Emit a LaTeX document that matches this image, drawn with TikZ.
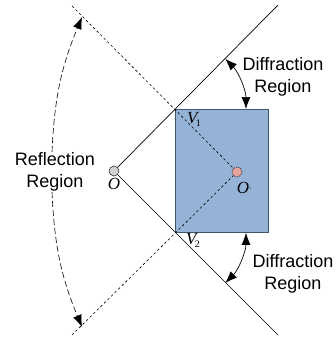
\documentclass[tikz,border=0pt]{standalone}
\usepackage{fontspec}
\setmainfont{Liberation Sans}
\newfontfamily\tmsfont{Liberation Serif}
\usetikzlibrary{arrows.meta}
\definecolor{rectfill}{HTML}{95B3D7}
\definecolor{rectedge}{HTML}{3F5570}
\definecolor{pinkfill}{HTML}{E8A29C}
\begin{document}
\begin{tikzpicture}[x=1pt,y=-1pt,
  solidline/.style={black,line width=0.7pt},
  dashline/.style={black,line width=0.6pt,dash pattern=on 2.5pt off 2.5pt},
  bigtip/.style={-{Latex[length=12pt,width=9pt]}},
  lbl/.style={font=\fontsize{18}{21.5}\selectfont,align=center,inner sep=0pt},
  mathlbl/.style={font=\fontsize{17}{18}\selectfont\tmsfont\itshape,inner sep=0pt}]
\useasboundingbox (0,0) rectangle (336,341);
% rectangle
\node[draw=rectedge,fill=rectfill,line width=0.8pt,minimum width=93pt,minimum height=123pt,inner sep=0pt,anchor=north west] (box) at (175,109) {};
\coordinate (V1) at (box.north west);
\coordinate (V2) at (box.south west);
% points
\coordinate (Oc) at (114,171);
\coordinate (Opc) at (237,172);
\coordinate (ut) at (278,5);
\coordinate (lt) at (278,335);
\coordinate (dut) at (72,6);
\coordinate (dlt) at (72,335);
% dashed lines
\draw[dashline] (dut) -- (Opc);
\draw[dashline] (dlt) -- (Opc);
% solid lines
\draw[solidline] (Oc) -- (ut);
\draw[solidline] (Oc) -- (lt);
% circles
\node[circle,draw=black!80,fill=black!18,line width=0.6pt,minimum size=10pt,inner sep=0pt] (O) at (Oc) {};
\node[circle,draw=black!85,fill=pinkfill,dash pattern=on 1.5pt off 1pt,line width=0.6pt,minimum size=10pt,inner sep=0pt] (Op) at (Opc) {};
% labels
\node[mathlbl] (Olbl) at (114,184) {O};
\node[mathlbl] (Oplbl) at (244,188) {O\raisebox{5pt}{\fontsize{7}{7}\selectfont ,}};
\node[mathlbl] (V1lbl) at (194,119) {V\kern-1.5pt\raisebox{-3pt}{\fontsize{10}{10}\selectfont\upshape 1}};
\node[mathlbl] (V2lbl) at (193,240) {V\kern-1.5pt\raisebox{-3pt}{\fontsize{10}{10}\selectfont\upshape 2}};
% Reflection region
\node[lbl] (refl) at (55,172) {Reflection\\Region};
\coordinate (ra) at (52,152);
\coordinate (rb) at (82,17);
\coordinate (rc) at (52,192);
\coordinate (rd) at (82,327);
\draw[dashline,dash pattern=on 6pt off 3pt,bigtip] (ra) to[bend left=10] (rb);
\draw[dashline,dash pattern=on 6pt off 3pt,bigtip] (rc) to[bend right=10] (rd);
% Diffraction regions
\node[lbl] (dif1) at (283,77) {Diffraction\\Region};
\node[lbl] (dif2) at (293,274) {Diffraction\\Region};
\draw[solidline,{Latex[length=12pt,width=9pt]}-{Latex[length=12pt,width=9pt]}] ([shift={(45:71pt)}]V1) arc[start angle=45,end angle=0,radius=71pt];
\draw[solidline,{Latex[length=12pt,width=9pt]}-{Latex[length=12pt,width=9pt]}] ([shift={(0:71pt)}]V2) arc[start angle=0,end angle=-45,radius=71pt];
\end{tikzpicture}
\end{document}
